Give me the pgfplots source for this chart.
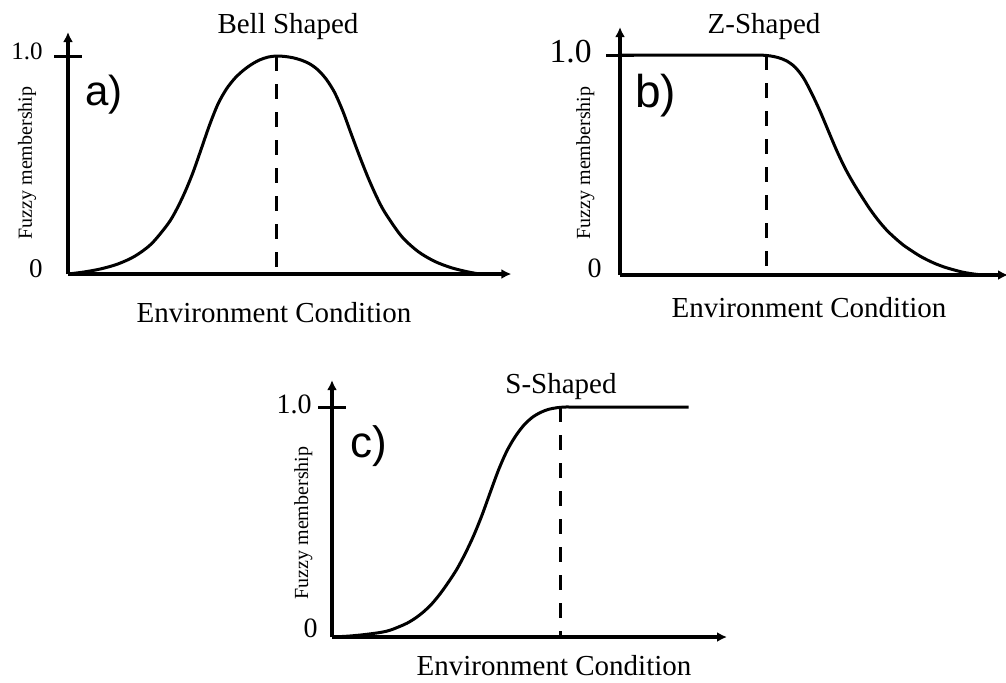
\documentclass[border=0pt]{standalone}
\usepackage{fontspec}
\setmainfont{Liberation Serif}
\newfontfamily\arialf{Liberation Sans}
\usepackage{pgfplots}
\pgfplotsset{compat=1.18}
\usetikzlibrary{arrows.meta}
\pgfplotsset{
  fuzzy/.style={
    anchor=origin,
    axis lines*=left,
    axis line style={line width=1.6pt, -{Latex[length=5pt,width=5pt]}},
    xmin=0, ymin=0,
    enlargelimits=false,
    xtick=\empty,
    ytick={1}, yticklabels={},
    tick align=center,
    major tick length=14pt,
    every tick/.style={line width=1.5pt, black},
    clip=false,
  },
  curve/.style={black, line width=1.5pt, smooth, tension=0.5, no marks},
  dash/.style={black, line width=1.6pt, dash pattern=on 7.5pt off 6.5pt, no marks},
}
\begin{document}
\begin{tikzpicture}
\useasboundingbox (0,0) rectangle (503pt,-341pt);
% ---------- a) Bell shaped ----------
\begin{axis}[fuzzy, at={(34pt,-137pt)}, x=0.16667pt, y=109pt, xmax=1330, ymax=1.11]
\addplot[curve] coordinates {
(0,0) (50,0.0097) (100,0.0241) (150,0.0462) (200,0.0813) (250,0.138)
(300,0.230) (325,0.294) (350,0.373) (375,0.466) (400,0.575) (425,0.685)
(450,0.780) (475,0.848) (500,0.897) (525,0.933) (550,0.961) (575,0.982)
(600,0.995) (625,1.0) (650,0.998) (675,0.992) (700,0.981) (725,0.964)
(750,0.936) (775,0.893) (800,0.832) (825,0.745) (850,0.641) (875,0.539)
(900,0.443) (925,0.357) (950,0.284) (1000,0.174) (1050,0.1034)
(1100,0.0580) (1150,0.0288) (1200,0.0096) (1235,0)};
\addplot[dash] coordinates {(625,1) (625,0)};
\end{axis}
% ---------- b) Z shaped ----------
\begin{axis}[fuzzy, at={(310pt,-137.5pt)}, x=0.16667pt, y=110pt, xmax=1164, ymax=1.127]
\addplot[curve] coordinates {
(0,1) (200,1) (375,1) (400,1) (425,0.9995) (450,0.996) (475,0.988) (500,0.973) (525,0.945)
(550,0.897) (575,0.826) (600,0.745) (625,0.655) (650,0.566) (675,0.486)
(700,0.418) (725,0.357) (750,0.299) (775,0.248) (800,0.204) (825,0.168)
(850,0.136) (875,0.110) (900,0.086) (925,0.066) (950,0.049) (975,0.035)
(1000,0.024) (1025,0.014) (1050,0.007) (1075,0.002) (1090,0)};
\addplot[dash] coordinates {(440,1) (440,0)};
\end{axis}
% ---------- c) S shaped ----------
\begin{axis}[fuzzy, at={(166pt,-318.5pt)}, x=0.16667pt, y=115pt, xmax=1185, ymax=1.117]
\addplot[curve] coordinates {
(0,0) (50,0.004) (100,0.011) (150,0.021) (175,0.030) (200,0.044) (225,0.060)
(250,0.082) (275,0.110) (300,0.145) (325,0.189) (350,0.240) (375,0.296)
(400,0.364) (425,0.441) (450,0.530) (475,0.630) (500,0.728) (525,0.810)
(550,0.872) (575,0.920) (600,0.954) (625,0.976) (650,0.990) (675,0.997)
(700,1) (725,1) (900,1) (1070,1)};
\addplot[dash] coordinates {(685,1) (685,0)};
\end{axis}
% ---------- texts ----------
\def\mainsize{\fontsize{14.5}{16}\selectfont}
\def\ysize{\fontsize{10}{11}\selectfont}
% a
\node[anchor=base, inner sep=0pt, font=\mainsize] at (144pt,-16.5pt) {Bell Shaped};
\node[anchor=base west, inner sep=0pt, font=\arialf\fontsize{21}{22}\selectfont] at (42.5pt,-52.5pt) {a)};
\node[anchor=base, inner sep=0pt, font=\mainsize] at (137pt,-161pt) {Environment Condition};
\node[anchor=base, rotate=90, inner sep=0pt, font=\ysize] at (16pt,-81.5pt) {Fuzzy membership};
\node[anchor=base east, inner sep=0pt, font=\fontsize{12.5}{13}\selectfont] at (21.5pt,-29.5pt) {1.0};
\node[anchor=base east, inner sep=0pt, font=\fontsize{13.5}{14}\selectfont] at (21.5pt,-138.5pt) {0};
% b
\node[anchor=base, inner sep=0pt, font=\mainsize] at (382pt,-16.5pt) {Z-Shaped};
\node[anchor=base west, inner sep=0pt, font=\arialf\fontsize{23}{24}\selectfont] at (317.5pt,-53.5pt) {b)};
\node[anchor=base, inner sep=0pt, font=\mainsize] at (404.5pt,-158.5pt) {Environment Condition};
\node[anchor=base, rotate=90, inner sep=0pt, font=\ysize] at (295pt,-81.5pt) {Fuzzy membership};
\node[anchor=base east, inner sep=0pt, font=\fontsize{16.8}{17}\selectfont] at (296pt,-31pt) {1.0};
\node[anchor=base east, inner sep=0pt, font=\fontsize{14}{15}\selectfont] at (301pt,-138.5pt) {0};
% c
\node[anchor=base, inner sep=0pt, font=\mainsize] at (280.5pt,-196.5pt) {S-Shaped};
\node[anchor=base west, inner sep=0pt, font=\arialf\fontsize{22}{23}\selectfont] at (175pt,-228.5pt) {c)};
\node[anchor=base, inner sep=0pt, font=\mainsize] at (277pt,-337.5pt) {Environment Condition};
\node[anchor=base, rotate=90, inner sep=0pt, font=\ysize] at (154pt,-261.5pt) {Fuzzy membership};
\node[anchor=base east, inner sep=0pt, font=\fontsize{14}{15}\selectfont] at (156pt,-206.5pt) {1.0};
\node[anchor=base east, inner sep=0pt, font=\fontsize{14}{15}\selectfont] at (159pt,-318.5pt) {0};
\end{tikzpicture}
\end{document}
